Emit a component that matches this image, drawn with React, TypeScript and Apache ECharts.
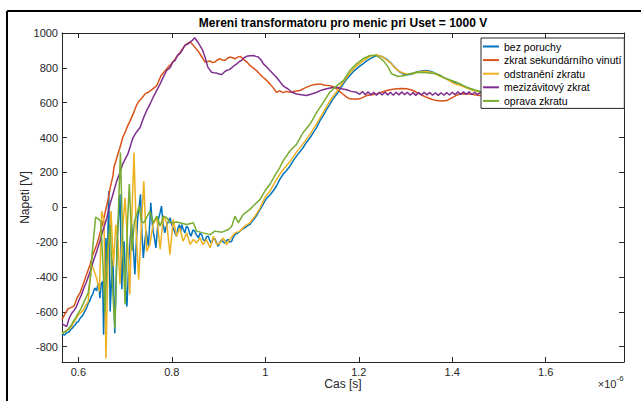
import React, { useEffect, useRef } from 'react';
import * as echarts from 'echarts';

const FONT = '"Liberation Sans", Arial, Helvetica, sans-serif';
const AXIS = '#262626';

const X_MIN = 0.565;
const X_MAX = 1.7675;
const Y_MIN = -888;
const Y_MAX = 1000;

const xTicks = [0.6, 0.8, 1, 1.2, 1.4, 1.6];
const yTicks = [-800, -600, -400, -200, 0, 200, 400, 600, 800, 1000];

const seriesNames = [
  'bez poruchy',
  'zkrat sekundárního vinutí',
  'odstranění zkratu',
  'mezizávitový zkrat',
  'oprava zkratu',
];
const seriesColors = ['#0072BD', '#D95319', '#EDB120', '#7E2F8E', '#77AC30'];

// time in units of 1e-6 s, voltage in V
const bezPoruchy: number[][] = [
  [0.565, -735], [0.568, -730], [0.571, -733], [0.574, -722], [0.578, -718], [0.581, -712], [0.584, -700],
  [0.587, -694], [0.590, -683], [0.593, -676], [0.596, -662], [0.600, -656], [0.603, -640], [0.606, -630],
  [0.609, -622], [0.612, -606], [0.615, -592], [0.618, -575], [0.621, -552], [0.624, -540], [0.628, -512],
  [0.631, -498], [0.634, -470], [0.636, -464], [0.639, -480], [0.642, -440], [0.644, -438],
  [0.646, -522], [0.649, -440], [0.652, -425], [0.654, -732], [0.657, -400], [0.659, -176], [0.662, -330],
  [0.665, 93], [0.668, -598], [0.671, -420], [0.674, -300], [0.678, -723], [0.681, -400], [0.683, -195],
  [0.686, -60], [0.689, 74], [0.691, -200], [0.693, -470], [0.695, -300], [0.698, -195], [0.701, -455],
  [0.704, -570], [0.708, -300], [0.711, -180], [0.714, -97], [0.718, -250], [0.721, -385], [0.724, -200],
  [0.727, -60], [0.730, 0], [0.733, 74], [0.736, -150], [0.739, -291], [0.742, -200], [0.745, -137],
  [0.748, -190], [0.750, -224], [0.753, -80], [0.755, 26], [0.758, -90], [0.760, -137], [0.763, -180],
  [0.766, -233], [0.769, -130], [0.772, -60], [0.775, -30], [0.778, 7], [0.781, -90], [0.785, -147],
  [0.788, -110], [0.790, -97], [0.793, -80], [0.796, -60], [0.800, -100], [0.803, -120], [0.806, -140],
  [0.810, -166], [0.813, -120], [0.816, -100], [0.819, -140], [0.821, -99], [0.825, -130], [0.828, -147],
  [0.831, -110], [0.835, -118], [0.838, -150], [0.841, -166], [0.845, -130], [0.849, -137], [0.853, -160],
  [0.857, -176], [0.860, -150], [0.864, -157], [0.867, -185], [0.871, -195], [0.874, -170], [0.878, -166],
  [0.881, -190], [0.885, -205], [0.888, -185], [0.892, -180], [0.895, -200], [0.899, -224], [0.903, -200],
  [0.907, -185], [0.910, -200], [0.914, -205], [0.917, -190], [0.921, -185], [0.924, -200], [0.928, -195],
  [0.931, -175], [0.935, -157], [0.940, -150], [0.946, -137], [0.951, -125], [0.956, -118], [0.962, -105],
  [0.967, -99], [0.972, -80], [0.978, -60], [0.983, -40], [0.989, -12], [0.994, 10], [0.999, 35],
  [1.004, 55], [1.010, 70], [1.017, 95], [1.024, 122], [1.031, 160], [1.038, 189], [1.045, 210],
  [1.053, 237], [1.060, 268], [1.067, 295], [1.074, 318], [1.081, 343], [1.088, 372], [1.096, 400],
  [1.103, 430], [1.110, 458], [1.117, 497], [1.124, 526], [1.131, 560], [1.138, 590], [1.145, 622],
  [1.153, 650], [1.160, 680], [1.167, 708], [1.174, 735], [1.181, 756], [1.188, 778], [1.195, 794],
  [1.202, 810], [1.209, 823], [1.217, 840], [1.224, 852], [1.231, 862], [1.238, 871], [1.245, 868],
  [1.252, 862], [1.259, 850], [1.267, 833], [1.272, 818], [1.277, 804], [1.282, 790], [1.288, 775],
  [1.295, 765], [1.302, 760], [1.309, 762], [1.316, 766], [1.323, 775], [1.331, 781], [1.338, 783],
  [1.345, 785], [1.352, 780], [1.359, 775], [1.366, 765], [1.374, 756], [1.381, 745], [1.388, 737],
  [1.395, 728], [1.402, 718], [1.409, 712], [1.416, 708], [1.423, 698], [1.430, 689], [1.438, 680],
  [1.445, 674], [1.452, 668], [1.459, 665], [1.50, 652], [1.55, 640], [1.60, 632], [1.65, 626],
  [1.70, 620], [1.767, 614],
];

const zkratSekundar: number[][] = [
  [0.565, -644], [0.571, -615], [0.578, -582], [0.584, -576], [0.591, -566], [0.597, -522], [0.604, -488],
  [0.610, -445], [0.616, -398], [0.625, -330], [0.631, -272], [0.640, -210], [0.646, -150], [0.653, -82],
  [0.659, -10], [0.664, 50], [0.668, 110], [0.674, 180], [0.676, 228], [0.683, 290], [0.689, 343],
  [0.695, 400], [0.700, 430], [0.706, 470], [0.711, 497], [0.718, 540], [0.724, 583], [0.730, 610],
  [0.737, 630], [0.743, 652], [0.750, 660], [0.756, 672], [0.764, 689], [0.768, 700], [0.777, 756],
  [0.783, 775], [0.792, 804], [0.798, 820], [0.804, 840], [0.810, 862], [0.817, 885], [0.823, 910],
  [0.828, 929], [0.833, 940], [0.839, 948], [0.844, 935], [0.849, 919], [0.855, 900], [0.860, 881],
  [0.866, 855], [0.871, 833], [0.876, 836], [0.882, 839], [0.887, 830], [0.892, 833], [0.897, 845],
  [0.903, 852], [0.908, 845], [0.914, 843], [0.919, 855], [0.924, 862], [0.930, 858], [0.935, 852],
  [0.940, 860], [0.946, 866], [0.951, 856], [0.956, 843], [0.962, 830], [0.967, 814], [0.974, 800],
  [0.981, 785], [0.988, 765], [0.995, 746], [1.003, 728], [1.010, 708], [1.017, 685], [1.024, 660],
  [1.031, 668], [1.038, 658], [1.045, 665], [1.053, 660], [1.063, 666], [1.074, 670], [1.085, 685],
  [1.096, 698], [1.106, 704], [1.117, 708], [1.127, 700], [1.138, 698], [1.146, 690], [1.153, 680],
  [1.160, 662], [1.166, 650], [1.174, 632], [1.181, 622], [1.192, 620], [1.202, 622], [1.210, 632],
  [1.217, 641], [1.228, 645], [1.238, 650], [1.249, 660], [1.260, 670], [1.270, 676], [1.281, 680],
  [1.292, 682], [1.302, 680], [1.309, 676], [1.316, 670], [1.323, 660], [1.331, 650], [1.338, 640],
  [1.345, 631], [1.356, 620], [1.366, 612], [1.377, 610], [1.388, 612], [1.395, 622], [1.401, 631],
  [1.409, 642], [1.416, 650], [1.427, 652], [1.438, 650], [1.448, 645], [1.459, 641], [1.50, 635],
  [1.55, 628], [1.60, 622], [1.65, 616], [1.70, 610], [1.767, 604],
];

const odstraneniZkratu: number[][] = [
  [0.565, -720], [0.571, -716], [0.578, -704], [0.584, -690], [0.589, -666], [0.595, -640], [0.600, -618],
  [0.606, -602], [0.611, -589], [0.616, -562], [0.621, -541], [0.628, -320], [0.633, -360], [0.639, -406],
  [0.645, -483], [0.650, -22], [0.655, -80], [0.659, -868], [0.664, -253], [0.670, -22], [0.675, -339],
  [0.680, -100], [0.685, -200], [0.689, -443], [0.694, -150], [0.700, 55], [0.705, -200], [0.710, -500],
  [0.714, -100], [0.719, 314], [0.724, -150], [0.729, -414], [0.735, -100], [0.740, 150], [0.746, -253],
  [0.753, -214], [0.760, -97], [0.768, -60], [0.775, -241], [0.782, -51], [0.789, -89], [0.796, -272],
  [0.803, -70], [0.810, -166], [0.817, -118], [0.824, -195], [0.832, -147], [0.839, -214], [0.846, -185],
  [0.853, -205], [0.860, -176], [0.867, -214], [0.874, -185], [0.882, -233], [0.889, -166], [0.896, -214],
  [0.903, -205], [0.910, -176], [0.917, -214], [0.924, -185], [0.935, -147], [0.946, -137], [0.956, -108],
  [0.967, -89], [0.978, -51], [0.989, -3], [0.999, 55], [1.010, 93], [1.020, 141], [1.031, 189],
  [1.038, 215], [1.053, 262], [1.067, 318], [1.081, 365], [1.096, 420], [1.110, 480], [1.124, 545],
  [1.138, 610], [1.153, 665], [1.167, 720], [1.181, 770], [1.195, 810], [1.209, 840], [1.224, 866],
  [1.238, 875], [1.252, 862], [1.267, 830], [1.277, 800], [1.288, 778], [1.302, 765], [1.316, 768],
  [1.331, 778], [1.345, 780], [1.359, 772], [1.374, 752], [1.388, 735], [1.402, 712], [1.416, 700],
  [1.430, 685], [1.445, 670], [1.459, 662], [1.50, 650], [1.55, 638], [1.60, 630], [1.65, 624],
  [1.70, 618], [1.767, 612],
];

const mezizavitovyZkrat: number[][] = [
  [0.565, -670], [0.569, -675], [0.575, -685], [0.580, -640], [0.586, -608], [0.591, -592], [0.596, -570],
  [0.601, -535], [0.607, -500], [0.612, -462], [0.618, -425], [0.625, -370], [0.632, -310], [0.639, -255],
  [0.646, -195], [0.653, -130], [0.661, -60], [0.668, 20], [0.674, 75], [0.682, 150], [0.689, 200],
  [0.695, 249], [0.706, 306], [0.717, 400], [0.724, 430], [0.732, 458], [0.739, 510], [0.746, 554],
  [0.753, 590], [0.760, 631], [0.768, 672], [0.775, 708], [0.782, 748], [0.789, 785], [0.796, 800],
  [0.802, 833], [0.807, 843], [0.813, 875], [0.817, 881], [0.822, 900], [0.828, 929], [0.833, 935],
  [0.839, 948], [0.844, 958], [0.849, 973], [0.855, 950], [0.860, 929], [0.866, 900], [0.871, 862],
  [0.877, 804], [0.885, 775], [0.890, 772], [0.896, 770], [0.901, 765], [0.907, 762], [0.912, 775],
  [0.917, 785], [0.923, 790], [0.928, 800], [0.933, 812], [0.939, 823], [0.944, 835], [0.949, 843],
  [0.955, 858], [0.960, 866], [0.967, 870], [0.974, 871], [0.980, 866], [0.985, 862], [0.991, 845],
  [0.996, 823], [1.003, 805], [1.010, 785], [1.017, 765], [1.024, 746], [1.031, 722], [1.038, 698],
  [1.043, 688], [1.048, 680], [1.057, 660], [1.067, 650], [1.077, 645], [1.088, 641], [1.099, 650],
  [1.110, 660], [1.120, 672], [1.131, 680], [1.142, 686], [1.153, 689], [1.163, 680], [1.174, 674],
  [1.184, 665], [1.195, 660], [1.202, 648], [1.208, 664], [1.214, 646], [1.220, 662], [1.226, 645],
  [1.232, 660], [1.238, 643], [1.244, 660], [1.250, 644], [1.256, 661], [1.262, 645], [1.268, 659],
  [1.274, 643], [1.280, 660], [1.286, 645], [1.292, 662], [1.298, 646], [1.304, 660], [1.310, 643],
  [1.316, 658], [1.322, 642], [1.328, 658], [1.334, 644], [1.340, 660], [1.346, 645], [1.352, 659],
  [1.358, 643], [1.364, 657], [1.370, 642], [1.376, 657], [1.382, 643], [1.388, 658], [1.394, 644],
  [1.400, 660], [1.406, 646], [1.412, 662], [1.418, 648], [1.424, 663], [1.430, 648], [1.436, 662],
  [1.442, 647], [1.448, 660], [1.454, 646], [1.460, 658], [1.50, 648], [1.55, 640], [1.60, 632],
  [1.65, 626], [1.70, 622], [1.767, 618],
];

const opravaZkratu: number[][] = [
  [0.565, -725], [0.571, -715], [0.578, -700], [0.584, -680], [0.589, -656], [0.595, -630], [0.600, -608],
  [0.606, -580], [0.611, -550], [0.616, -520], [0.621, -493], [0.626, -400], [0.630, -250], [0.637, -57],
  [0.642, -65], [0.648, -80], [0.653, -350], [0.657, -608], [0.662, -250], [0.668, -100], [0.673, -450],
  [0.678, -695], [0.684, -150], [0.690, 314], [0.695, -200], [0.700, -558], [0.705, -100], [0.709, 133],
  [0.715, -250], [0.720, -80], [0.725, -40], [0.730, 7], [0.735, -80], [0.740, -90], [0.746, -60],
  [0.753, -22], [0.760, -89], [0.768, -51], [0.775, -108], [0.782, -51], [0.789, -60], [0.796, -89],
  [0.803, -89], [0.810, -85], [0.817, -89], [0.832, -99], [0.846, -89], [0.853, -137], [0.867, -147],
  [0.882, -157], [0.892, -137], [0.907, -143], [0.921, -128], [0.928, -110], [0.935, -51], [0.942, -89],
  [0.953, -41], [0.967, -12], [0.978, 17], [0.989, 45], [0.999, 93], [1.010, 132], [1.020, 180],
  [1.031, 228], [1.038, 266], [1.053, 324], [1.067, 362], [1.081, 429], [1.096, 478], [1.110, 545],
  [1.124, 602], [1.138, 660], [1.153, 698], [1.167, 727], [1.181, 785], [1.195, 823], [1.209, 852],
  [1.224, 871], [1.238, 871], [1.252, 843], [1.263, 804], [1.270, 766], [1.284, 750], [1.298, 756],
  [1.309, 766], [1.323, 775], [1.345, 772], [1.366, 766], [1.388, 737], [1.409, 718], [1.430, 689],
  [1.452, 670], [1.459, 665], [1.50, 650], [1.55, 638], [1.60, 630], [1.65, 624], [1.70, 618],
  [1.767, 612],
];

const seriesData = [bezPoruchy, zkratSekundar, odstraneniZkratu, mezizavitovyZkrat, opravaZkratu];

const plainNumber = (v: number) => String(v);

function xAxisDef(position: string, showLabel: boolean) {
  return {
    type: 'value',
    position,
    min: X_MIN,
    max: X_MAX,
    axisLine: { show: true, onZero: false, lineStyle: { color: AXIS, width: 1 } },
    axisTick: { show: true, inside: true, length: 5, customValues: xTicks, lineStyle: { color: AXIS, width: 1 } },
    axisLabel: {
      show: showLabel, customValues: xTicks, formatter: plainNumber,
      color: AXIS, fontSize: 11, fontFamily: FONT, margin: 4,
    },
    splitLine: { show: false },
  };
}

function yAxisDef(position: string, showLabel: boolean) {
  return {
    type: 'value',
    position,
    min: Y_MIN,
    max: Y_MAX,
    axisLine: { show: true, onZero: false, lineStyle: { color: AXIS, width: 1 } },
    axisTick: { show: true, inside: true, length: 5, customValues: yTicks, lineStyle: { color: AXIS, width: 1 } },
    axisLabel: {
      show: showLabel, customValues: yTicks, formatter: plainNumber,
      color: AXIS, fontSize: 11, fontFamily: FONT, margin: 4,
    },
    splitLine: { show: false },
  };
}

export default function App() {
  const ref = useRef<HTMLDivElement>(null);
  useEffect(() => {
    if (!ref.current) return;
    const chart = echarts.init(ref.current, null, { renderer: 'svg' });
    const option: any = {
      animation: false,
      backgroundColor: '#ffffff',
      title: {
        text: 'Mereni transformatoru pro menic pri Uset = 1000 V',
        left: 343,
        top: 17,
        padding: 0,
        textAlign: 'center',
        textStyle: { fontFamily: FONT, fontSize: 12, fontWeight: 'bold', color: '#000' },
      },
      grid: { left: 62, top: 33, right: 17, bottom: 39, containLabel: false },
      xAxis: [xAxisDef('bottom', true), xAxisDef('top', false)],
      yAxis: [yAxisDef('left', true), yAxisDef('right', false)],
      legend: {
        data: seriesNames,
        orient: 'vertical',
        left: 481,
        top: 38,
        padding: [3, 3, 2, 1],
        itemWidth: 16,
        itemHeight: 11,
        itemGap: 2.6,
        itemStyle: { opacity: 0 },
        backgroundColor: '#ffffff',
        borderColor: AXIS,
        borderWidth: 1,
        borderRadius: 0,
        textStyle: { fontFamily: FONT, fontSize: 10.5, color: '#000' },
      },
      graphic: [
        { type: 'line', shape: { x1: 7, y1: 11, x2: 641, y2: 11 }, style: { stroke: '#000', lineWidth: 2 }, silent: true },
        { type: 'line', shape: { x1: 7, y1: 11, x2: 7, y2: 401 }, style: { stroke: '#000', lineWidth: 2 }, silent: true },
        {
          type: 'text', x: 25, y: 197.5, rotation: Math.PI / 2,
          style: { text: 'Napeti [V]', fill: AXIS, fontSize: 12, fontFamily: FONT, align: 'center', verticalAlign: 'middle' },
        },
        {
          type: 'text', x: 343, y: 384,
          style: { text: 'Cas [s]', fill: AXIS, fontSize: 12, fontFamily: FONT, align: 'center', verticalAlign: 'middle' },
        },
        {
          type: 'text', x: 616.5, y: 384,
          style: { text: '×10', fill: AXIS, fontSize: 11, fontFamily: FONT, align: 'right', verticalAlign: 'middle' },
        },
        {
          type: 'text', x: 616.5, y: 378,
          style: { text: '-6', fill: AXIS, fontSize: 8, fontFamily: FONT, align: 'left', verticalAlign: 'middle' },
        },
      ],
      series: seriesNames.map((name, i) => ({
        name,
        type: 'line',
        xAxisIndex: 0,
        yAxisIndex: 0,
        data: seriesData[i],
        symbol: 'none',
        showSymbol: false,
        color: seriesColors[i],
        lineStyle: { color: seriesColors[i], width: 1.5 },
        emphasis: { disabled: true },
        clip: true,
      })),
    };
    chart.setOption(option);
    return () => chart.dispose();
  }, []);
  return (
    <div
      ref={ref}
      style={{ position: 'fixed', left: 0, top: 0, width: 641, height: 401, background: '#fff' }}
    />
  );
}
